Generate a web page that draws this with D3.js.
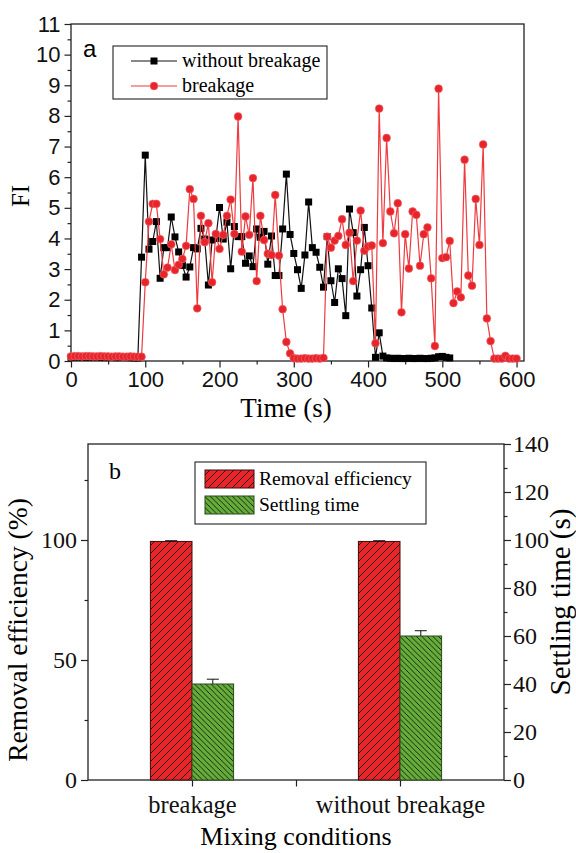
<!DOCTYPE html>
<html>
<head>
<meta charset="utf-8">
<script src="https://cdn.jsdelivr.net/npm/d3@7"></script>
<style>
  body { margin: 0; background: #fff; }
  svg { display: block; }
</style>
</head>
<body>
<svg id="chart"></svg>
<script>
// ---- panel a: flocculation index, one reading every 5 s ----
const sampleStep = 5;

// mixing without floc breakage (0 ... 510 s)
const fiWithoutBreakage = [
  0.12, 0.13, 0.13, 0.12, 0.12, 0.13, 0.12, 0.12, 0.12, 0.11,
  0.12, 0.12, 0.11, 0.11, 0.12, 0.11, 0.11, 0.10, 0.10,
  3.39, 6.72, 3.65, 3.90, 4.55, 2.70, 3.70, 3.70, 4.70, 4.05,
  3.56, 3.12, 2.74, 3.07, 3.70, 3.66, 4.33, 3.98, 2.48, 3.95,
  4.00, 5.01, 3.98, 4.53, 3.01, 4.39, 4.06, 4.06, 3.19, 3.43,
  3.08, 4.31, 4.04, 4.23, 3.16, 4.08, 2.79, 2.79, 4.31, 6.10,
  4.13, 3.51, 2.98, 2.37, 3.46, 5.19, 3.70, 3.55, 3.06, 2.41,
  4.06, 2.62, 1.91, 3.01, 2.69, 1.48, 4.96, 4.19, 2.12, 2.98,
  4.36, 3.11, 1.73, 0.12, 0.92, 0.16, 0.10, 0.09, 0.08, 0.09,
  0.08, 0.08, 0.09, 0.08, 0.08, 0.09, 0.08, 0.08, 0.09, 0.10,
  0.14, 0.15, 0.12, 0.10
];

// mixing with floc breakage (0 ... 600 s)
const fiBreakage = [
  0.15, 0.16, 0.16, 0.15, 0.16, 0.16, 0.15, 0.15, 0.16, 0.15,
  0.15, 0.14, 0.15, 0.15, 0.14, 0.14, 0.15, 0.14, 0.14,
  0.14, 2.57, 4.55, 5.13, 5.13, 3.98, 2.83, 3.05, 3.81, 2.97,
  3.14, 3.33, 3.76, 5.61, 5.29, 1.72, 4.74, 3.88, 4.50, 2.57,
  4.15, 3.66, 4.12, 4.74, 5.27, 4.15, 7.98, 3.57, 4.72, 4.12,
  5.97, 2.61, 4.74, 3.95, 3.50, 3.46, 5.42, 3.44, 1.69, 0.62,
  0.25, 0.09, 0.08, 0.08, 0.09, 0.08, 0.08, 0.09, 0.08, 0.10,
  4.06, 3.70, 3.93, 4.08, 4.63, 3.79, 4.19, 2.61, 3.93, 4.91,
  3.60, 3.74, 3.77, 0.58, 8.24, 3.85, 7.28, 4.88, 4.17, 5.15,
  1.59, 4.14, 3.02, 4.88, 4.77, 3.11, 4.14, 4.36, 2.70, 0.49,
  8.89, 3.36, 3.39, 3.92, 1.89, 2.27, 2.08, 6.57, 2.79, 2.46,
  5.29, 3.79, 7.07, 1.39, 0.65, 0.08, 0.08, 0.08, 0.17, 0.08,
  0.08, 0.08
];

const fiTicks = [0, 1, 2, 3, 4, 5, 6, 7, 8, 9, 10, 11];
const timeTicks = [0, 100, 200, 300, 400, 500, 600];

// ---- panel b: removal efficiency and settling time ----
const mixingConditions = ["breakage", "without breakage"];
const removalEfficiency = [99.4, 99.4];
const removalError = [0.3, 0.3];
const settlingTime = [40, 60];
const settlingError = [2, 2.2];

const efficiencyTicks = [0, 50, 100];
const settlingTicks = [0, 20, 40, 60, 80, 100, 120, 140];

const WIDTH = 576;
const HEIGHT = 853;
const SANS = '"Liberation Sans", Arial, sans-serif';
const SERIF = '"Liberation Serif", "Times New Roman", serif';

const svg = d3.select("#chart")
  .attr("width", WIDTH)
  .attr("height", HEIGHT)
  .attr("viewBox", `0 0 ${WIDTH} ${HEIGHT}`);

svg.append("rect").attr("width", WIDTH).attr("height", HEIGHT).attr("fill", "#fff");

// axis look shared by both panels
function styleAxis(g, font, size) {
  g.select(".domain").remove();
  g.selectAll(".tick line").attr("stroke", "#222").attr("stroke-width", 1.2);
  g.selectAll(".tick text")
    .attr("fill", "#111")
    .style("font-family", font)
    .style("font-size", size + "px");
}

function minorTicks(major) {
  return major.slice(0, -1).map((v, i) => (v + major[i + 1]) / 2);
}

// =============== panel a ===============
{
  const x = d3.scaleLinear().domain([0, 610]).range([71, 524]);
  const y = d3.scaleLinear().domain([0, 11]).range([361, 24]);

  const toPoints = (values) => values.map((v, i) => ({ t: i * sampleStep, v }));
  const black = toPoints(fiWithoutBreakage);
  const red = toPoints(fiBreakage);

  const gA = svg.append("g").attr("class", "panel-a");

  // minor + major ticks
  gA.append("g")
    .attr("transform", "translate(0,361)")
    .call(d3.axisBottom(x).tickValues(minorTicks(timeTicks)).tickSize(3.5).tickFormat(""))
    .call((g) => styleAxis(g, SANS, 22));
  gA.append("g")
    .attr("transform", "translate(0,361)")
    .call(d3.axisBottom(x).tickValues(timeTicks).tickSize(6.5).tickPadding(4))
    .call((g) => styleAxis(g, SANS, 22));
  gA.append("g")
    .attr("transform", "translate(71,0)")
    .call(d3.axisLeft(y).tickValues(minorTicks(fiTicks)).tickSize(3.5).tickFormat(""))
    .call((g) => styleAxis(g, SANS, 22));
  gA.append("g")
    .attr("transform", "translate(71,0)")
    .call(d3.axisLeft(y).tickValues(fiTicks).tickSize(6.5).tickPadding(4))
    .call((g) => styleAxis(g, SANS, 22));

  // frame
  gA.append("rect")
    .attr("x", x(0)).attr("y", y(11))
    .attr("width", x(610) - x(0)).attr("height", y(0) - y(11))
    .attr("fill", "none").attr("stroke", "#222").attr("stroke-width", 1.3);

  const line = d3.line().x((d) => x(d.t)).y((d) => y(d.v));

  // without breakage: black squares
  gA.append("path")
    .attr("d", line(black))
    .attr("fill", "none").attr("stroke", "#111").attr("stroke-width", 1.2);
  gA.append("g").selectAll("rect")
    .data(black).join("rect")
    .attr("x", (d) => x(d.t) - 3.5).attr("y", (d) => y(d.v) - 3.5)
    .attr("width", 7).attr("height", 7)
    .attr("fill", "#000");

  // breakage: red circles
  gA.append("path")
    .attr("d", line(red))
    .attr("fill", "none").attr("stroke", "#ef3a3f").attr("stroke-width", 1.2);
  gA.append("g").selectAll("circle")
    .data(red).join("circle")
    .attr("cx", (d) => x(d.t)).attr("cy", (d) => y(d.v))
    .attr("r", 3.9)
    .attr("fill", "#e8242b")
    .attr("stroke", "#f06a6e").attr("stroke-width", 0.6);

  // axis titles
  gA.append("text")
    .attr("x", 286).attr("y", 417)
    .attr("text-anchor", "middle")
    .style("font-family", SERIF).style("font-size", "27px")
    .text("Time (s)");
  gA.append("text")
    .attr("transform", "translate(29,196) rotate(-90)")
    .attr("text-anchor", "middle")
    .style("font-family", SERIF).style("font-size", "25px")
    .text("FI");

  gA.append("text")
    .attr("x", 83).attr("y", 57)
    .style("font-family", SANS).style("font-size", "24px")
    .text("a");

  // legend
  const lg = gA.append("g");
  lg.append("rect")
    .attr("x", 113).attr("y", 46).attr("width", 214).attr("height", 53)
    .attr("fill", "#fff").attr("stroke", "#222").attr("stroke-width", 1.1);
  const rows = [
    { label: "without breakage", y: 61, color: "#111", marker: "square" },
    { label: "breakage", y: 86, color: "#ef3a3f", marker: "circle" },
  ];
  rows.forEach((r) => {
    lg.append("line")
      .attr("x1", 131).attr("x2", 177).attr("y1", r.y).attr("y2", r.y)
      .attr("stroke", r.color).attr("stroke-width", 1.2);
    if (r.marker === "square") {
      lg.append("rect")
        .attr("x", 154 - 3.5).attr("y", r.y - 3.5).attr("width", 7).attr("height", 7)
        .attr("fill", "#000");
    } else {
      lg.append("circle")
        .attr("cx", 154).attr("cy", r.y).attr("r", 3.9)
        .attr("fill", "#e8242b").attr("stroke", "#f06a6e").attr("stroke-width", 0.6);
    }
    lg.append("text")
      .attr("x", 182).attr("y", r.y + 6)
      .style("font-family", SERIF).style("font-size", "20px")
      .text(r.label);
  });
}

// =============== panel b ===============
{
  const x = d3.scaleLinear().domain([0.5, 2.5]).range([88, 504]);
  const yEff = d3.scaleLinear().domain([0, 140]).range([780, 444]);
  const ySet = d3.scaleLinear().domain([0, 140]).range([780, 444]);
  const barW = 0.2;

  const gB = svg.append("g").attr("class", "panel-b");

  // hatch patterns
  const defs = svg.append("defs");
  const red = defs.append("pattern")
    .attr("id", "hatchRed").attr("patternUnits", "userSpaceOnUse")
    .attr("width", 8).attr("height", 8);
  red.append("rect").attr("width", 8).attr("height", 8).attr("fill", "#e8262a");
  red.append("path")
    .attr("d", "M0,8 L8,0 M-2,2 L2,-2 M6,10 L10,6")
    .attr("stroke", "#1a0a0a").attr("stroke-width", 0.9);
  const green = defs.append("pattern")
    .attr("id", "hatchGreen").attr("patternUnits", "userSpaceOnUse")
    .attr("width", 5.5).attr("height", 5.5);
  green.append("rect").attr("width", 5.5).attr("height", 5.5).attr("fill", "#66ad3c");
  green.append("path")
    .attr("d", "M0,0 L5.5,5.5 M-2,3.5 L2,7.5 M3.5,-2 L7.5,2")
    .attr("stroke", "#0d1a08").attr("stroke-width", 0.9);

  // ticks
  const catTicks = [1, 1.5, 2];
  gB.append("g")
    .attr("transform", "translate(0,780)")
    .call(d3.axisBottom(x).tickValues(catTicks).tickSize(6.5).tickPadding(9)
      .tickFormat((d) => (Number.isInteger(d) ? mixingConditions[d - 1] : "")))
    .call((g) => styleAxis(g, SERIF, 24.5));
  gB.append("g")
    .attr("transform", "translate(88,0)")
    .call(d3.axisLeft(yEff).tickValues(minorTicks(efficiencyTicks).concat([125])).tickSize(3.5).tickFormat(""))
    .call((g) => styleAxis(g, SERIF, 24));
  gB.append("g")
    .attr("transform", "translate(88,0)")
    .call(d3.axisLeft(yEff).tickValues(efficiencyTicks).tickSize(7).tickPadding(4))
    .call((g) => styleAxis(g, SERIF, 24));
  gB.append("g")
    .attr("transform", "translate(504,0)")
    .call(d3.axisRight(ySet).tickValues(minorTicks(settlingTicks)).tickSize(3.5).tickFormat(""))
    .call((g) => styleAxis(g, SERIF, 24));
  gB.append("g")
    .attr("transform", "translate(504,0)")
    .call(d3.axisRight(ySet).tickValues(settlingTicks).tickSize(7).tickPadding(2))
    .call((g) => styleAxis(g, SERIF, 24));

  // frame
  gB.append("rect")
    .attr("x", 88).attr("y", 444).attr("width", 504 - 88).attr("height", 780 - 444)
    .attr("fill", "none").attr("stroke", "#222").attr("stroke-width", 1.3);

  const rows = mixingConditions.map((c, i) => ({
    i: i + 1,
    eff: removalEfficiency[i], effErr: removalError[i],
    set: settlingTime[i], setErr: settlingError[i],
  }));

  // removal efficiency bars (left of category)
  gB.append("g").selectAll("rect")
    .data(rows).join("rect")
    .attr("x", (d) => x(d.i - barW))
    .attr("y", (d) => yEff(d.eff))
    .attr("width", (d) => x(d.i) - x(d.i - barW))
    .attr("height", (d) => yEff(0) - yEff(d.eff))
    .attr("fill", "url(#hatchRed)")
    .attr("stroke", "#3a0c0c").attr("stroke-width", 1);

  // settling time bars (right of category)
  gB.append("g").selectAll("rect")
    .data(rows).join("rect")
    .attr("x", (d) => x(d.i))
    .attr("y", (d) => ySet(d.set))
    .attr("width", (d) => x(d.i + barW) - x(d.i))
    .attr("height", (d) => ySet(0) - ySet(d.set))
    .attr("fill", "url(#hatchGreen)")
    .attr("stroke", "#2a4a1a").attr("stroke-width", 1);

  // error bars (upper half only)
  const errs = rows.flatMap((d) => [
    { cx: x(d.i - barW / 2), y0: yEff(d.eff), y1: yEff(d.eff + d.effErr) },
    { cx: x(d.i + barW / 2), y0: ySet(d.set), y1: ySet(d.set + d.setErr) },
  ]);
  const eg = gB.append("g").attr("stroke", "#111").attr("stroke-width", 1);
  eg.selectAll("line.v").data(errs).join("line").attr("class", "v")
    .attr("x1", (d) => d.cx).attr("x2", (d) => d.cx)
    .attr("y1", (d) => d.y0).attr("y2", (d) => d.y1);
  eg.selectAll("line.cap").data(errs).join("line").attr("class", "cap")
    .attr("x1", (d) => d.cx - 6).attr("x2", (d) => d.cx + 6)
    .attr("y1", (d) => d.y1).attr("y2", (d) => d.y1);

  // titles
  gB.append("text")
    .attr("x", 296).attr("y", 845)
    .attr("text-anchor", "middle")
    .style("font-family", SERIF).style("font-size", "26px")
    .text("Mixing conditions");
  gB.append("text")
    .attr("transform", "translate(27,630) rotate(-90)")
    .attr("text-anchor", "middle")
    .style("font-family", SERIF).style("font-size", "27.5px")
    .text("Removal efficiency (%)");
  gB.append("text")
    .attr("transform", "translate(570,602) rotate(-90)")
    .attr("text-anchor", "middle")
    .style("font-family", SERIF).style("font-size", "29px")
    .text("Settling time (s)");
  gB.append("text")
    .attr("x", 109).attr("y", 479)
    .style("font-family", SERIF).style("font-size", "24px")
    .text("b");

  // legend
  const lg = gB.append("g");
  lg.append("rect")
    .attr("x", 195).attr("y", 462).attr("width", 231).attr("height", 62)
    .attr("fill", "#fff").attr("stroke", "#222").attr("stroke-width", 1.1);
  [
    { label: "Removal efficiency", y: 470, fill: "url(#hatchRed)", stroke: "#3a0c0c" },
    { label: "Settling time", y: 496, fill: "url(#hatchGreen)", stroke: "#2a4a1a" },
  ].forEach((r) => {
    lg.append("rect")
      .attr("x", 205).attr("y", r.y).attr("width", 49).attr("height", 18)
      .attr("fill", r.fill).attr("stroke", r.stroke).attr("stroke-width", 1);
    lg.append("text")
      .attr("x", 259).attr("y", r.y + 15)
      .style("font-family", SERIF).style("font-size", "19.5px")
      .text(r.label);
  });
}
</script>
</body>
</html>
